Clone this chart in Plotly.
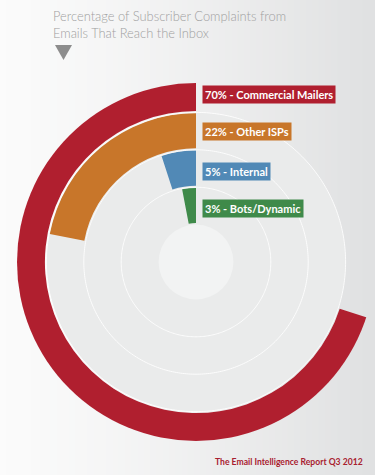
import numpy as np
import plotly.graph_objects as go

# ---- data ----
categories = ["Commercial Mailers", "Other ISPs", "Internal", "Bots/Dynamic"]
percents = [70, 22, 5, 3]
colors = ["#b01f2f", "#c8762a", "#5189b6", "#3f8a4a"]
ring_inner = [4, 3, 2, 1]  # ring index (outer -> inner)
title_lines = ["Percentage of Subscriber Complaints from", "Emails That Reach the Inbox"]
footer = "The Email Intelligence Report Q3 2012"

W, H = 375, 475
cx_px, cy_px = 196, 262
R_dom = 179.0            # domain radius in px
unit_px = 37.4           # px per ring unit
rmax = R_dom / unit_px

fig = go.Figure()

# background gradient (left light -> right grey)
n = 60
c0 = np.array([251, 251, 251])
c1 = np.array([224, 225, 226])
shapes = []
for i in range(n):
    t = i / (n - 1)
    c = (c0 + (c1 - c0) * (t ** 1.3)).astype(int)
    shapes.append(dict(type="rect", xref="paper", yref="paper",
                       x0=i / n, x1=(i + 1) / n + 0.002, y0=0, y1=1,
                       fillcolor=f"rgb({c[0]},{c[1]},{c[2]})", line_width=0, layer="below"))

# small pointer triangle under the title
def px(x, y):
    return f"{x / W:.5f},{1 - y / H:.5f}"
shapes.append(dict(type="path", xref="paper", yref="paper",
                   path=f"M {px(55, 45)} L {px(72, 45)} L {px(63.5, 60)} Z",
                   fillcolor="#8d8d8d", line_width=0, layer="above"))

# track disc
fig.add_trace(go.Barpolar(theta=[180], width=[360], base=[0], r=[4.0],
                          marker=dict(color="#eaebeb", line_width=0),
                          hoverinfo="skip", showlegend=False))
fig.add_trace(go.Barpolar(theta=[180], width=[360], base=[0], r=[1.0],
                          marker=dict(color="#f2f3f3", line_width=0),
                          hoverinfo="skip", showlegend=False))
# faint white circles (cliponaxis False lets the outer ring extend past the domain)
th = np.linspace(0, 360, 361)
for rr in [2, 3, 4]:
    fig.add_trace(go.Scatterpolar(theta=th, r=[rr] * len(th), mode="lines", cliponaxis=False,
                                  line=dict(color="rgba(255,255,255,0.85)", width=1),
                                  hoverinfo="skip", showlegend=False))

# data rings
for cat, p, col, ri in zip(categories, percents, colors, ring_inner):
    fig.add_trace(go.Barpolar(theta=[p * 3.6 / 2], width=[p * 3.6], base=[ri + 0.04], r=[0.94],
                              marker=dict(color=col, line_width=0), name=cat,
                              hoverinfo="skip", showlegend=False))

x0 = (W - 2 * R_dom) / W
fig.update_layout(
    width=W, height=H, margin=dict(l=0, r=0, t=0, b=0),
    paper_bgcolor="#fbfbfb", plot_bgcolor="rgba(0,0,0,0)",
    shapes=shapes,
    polar=dict(
        domain=dict(x=[x0, 1], y=[1 - (cy_px + R_dom) / H, 1 - (cy_px - R_dom) / H]),
        bgcolor="rgba(0,0,0,0)",
        angularaxis=dict(direction="counterclockwise", rotation=90, visible=False),
        radialaxis=dict(range=[0, rmax], visible=False),
        bargap=0,
    ),
)

annotations = []
for line, ty in zip(title_lines, [15.5, 33.5]):
    annotations.append(dict(text=line, x=51 / W, y=1 - ty / H,
                            xref="paper", yref="paper", xanchor="left", yanchor="middle", align="left",
                            showarrow=False, font=dict(family="Lato", size=12.9, color="#a0a0a0", weight=300)))
label_y = [95, 132, 171, 209]
for cat, p, col, ly in zip(categories, percents, colors, label_y):
    annotations.append(dict(text=f"{p}% - {cat}", x=202 / W, y=1 - ly / H, xref="paper", yref="paper",
                            xanchor="left", yanchor="middle", showarrow=False, bgcolor=col, borderpad=2,
                            font=dict(family="Lato", size=11, color="white", weight="bold")))
annotations.append(dict(text=footer, x=365 / W, y=1 - 462 / H, xref="paper", yref="paper",
                        xanchor="right", yanchor="middle", showarrow=False,
                        font=dict(family="Lato", size=8.6, color="#a8202f", weight="bold")))
fig.update_layout(annotations=annotations)

fig.write_html("out.html", config={"displayModeBar": False},
               post_script="document.body.style.margin='0';document.body.style.overflow='hidden';")
